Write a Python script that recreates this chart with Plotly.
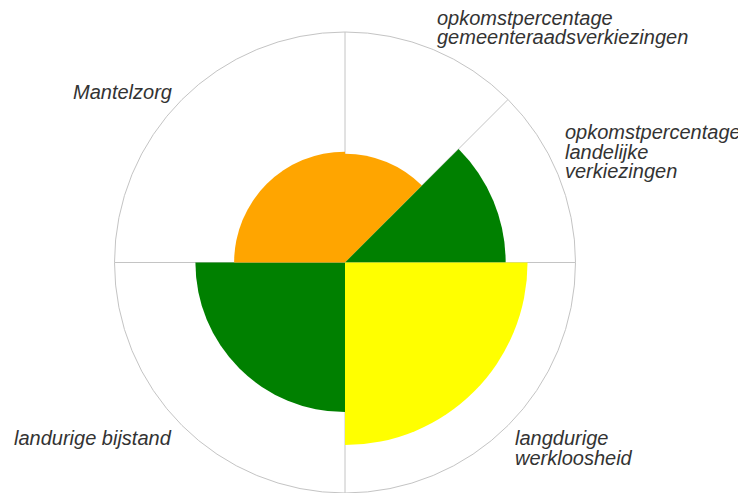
import plotly.graph_objects as go

# sectors, clockwise from north
categories = [
    "opkomstpercentage gemeenteraadsverkiezingen",
    "opkomstpercentage landelijke verkiezingen",
    "langdurige werkloosheid",
    "landurige bijstand",
    "Mantelzorg",
]
theta_center = [22.5, 67.5, 135, 225, 315]
sector_width = [45, 45, 90, 90, 90]
scores = [47.2, 69.7, 79.2, 64.9, 48.1]
colors = ["#FFA500", "#008000", "#FFFF00", "#008000", "#FFA500"]
boundaries = [0, 45, 90, 180, 270]

label_lines = [
    ["opkomstpercentage", "gemeenteraadsverkiezingen"],
    ["opkomstpercentage", "landelijke", "verkiezingen"],
    ["langdurige", "werkloosheid"],
    ["landurige bijstand"],
    ["Mantelzorg"],
]
# (anchor x px, anchor side, first baseline px) in page pixels
label_pos = [(435, "left", 24.5), (563, "left", 139), (513, "left", 445),
             (174, "right", 445), (174, "right", 99)]

# page body has an 8px margin, so the figure is drawn 8px in
OFF = 8
W, H = 746 - OFF, 493 - OFF
FS = 20
LINE = 19.5

fig = go.Figure(
    go.Barpolar(
        r=scores,
        theta=theta_center,
        width=sector_width,
        marker=dict(color=colors, line=dict(width=0)),
        opacity=1,
        hovertext=categories,
        showlegend=False,
    )
)

annotations = []
for lines, (px, anchor, base) in zip(label_lines, label_pos):
    for i, txt in enumerate(lines):
        by = base + i * LINE - 0.33 * FS - OFF
        annotations.append(
            dict(
                text=f"<i>{txt}</i>",
                x=(px - OFF) / W,
                y=1 - by / H,
                xref="paper",
                yref="paper",
                xanchor=anchor,
                yanchor="middle",
                showarrow=False,
                font=dict(size=FS, color="#333333", family="Liberation Sans, Arial, sans-serif"),
            )
        )

fig.update_layout(
    width=W,
    height=H,
    margin=dict(t=0, b=0, l=0, r=0),
    paper_bgcolor="white",
    polar=dict(
        domain=dict(x=[(114 - OFF) / W, (576 - OFF) / W], y=[0, 1 - (32 - OFF) / H]),
        bgcolor="white",
        radialaxis=dict(range=[0, 100], visible=False),
        angularaxis=dict(
            rotation=90,
            direction="clockwise",
            tickmode="array",
            tickvals=boundaries,
            showticklabels=False,
            ticks="",
            gridcolor="#c4c4c4",
            gridwidth=1,
            linecolor="#c4c4c4",
            linewidth=1,
        ),
    ),
    annotations=annotations,
)

fig.write_html("out.html")
